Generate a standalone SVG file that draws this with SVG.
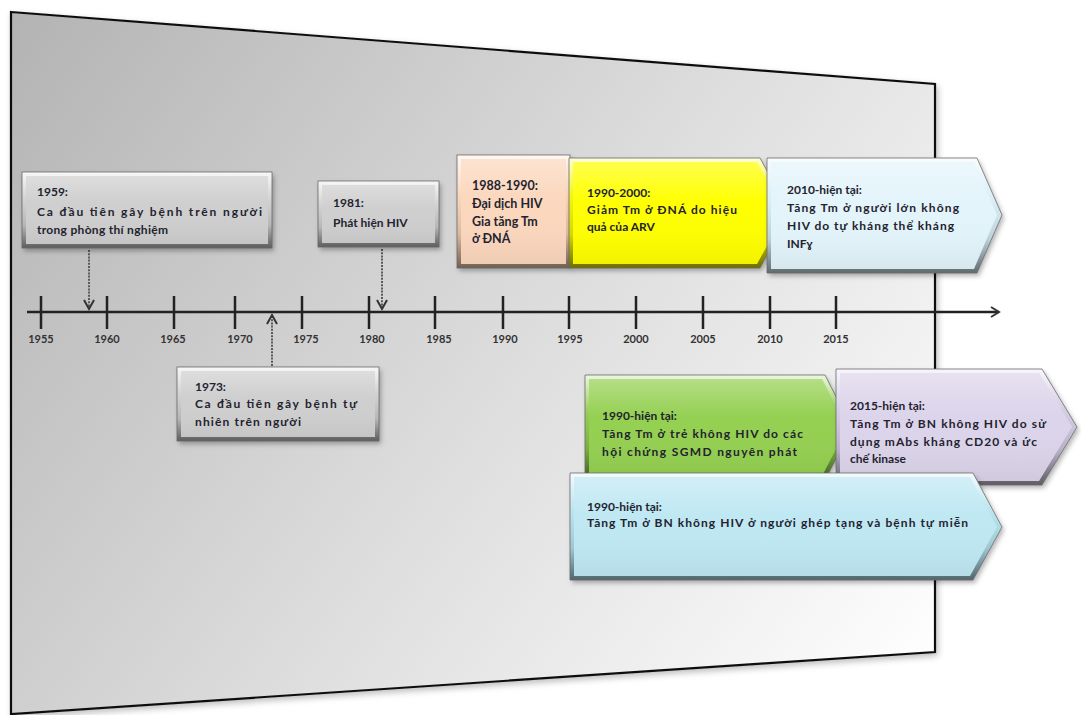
<svg xmlns="http://www.w3.org/2000/svg" width="1081" height="715" viewBox="0 0 1081 715">
<defs>
<linearGradient id="bgGrad" gradientUnits="userSpaceOnUse" x1="11" y1="12" x2="935" y2="680">
<stop offset="0" stop-color="#b3b3b3"/>
<stop offset="0.55" stop-color="#dedede"/>
<stop offset="1" stop-color="#ffffff"/>
</linearGradient>
<linearGradient id="bev" x1="0" y1="0" x2="0" y2="1">
<stop offset="0" stop-color="#ffffff" stop-opacity="0.85"/>
<stop offset="0.35" stop-color="#ffffff" stop-opacity="0.1"/>
<stop offset="0.7" stop-color="#000000" stop-opacity="0.12"/>
<stop offset="1" stop-color="#000000" stop-opacity="0.55"/>
</linearGradient>
<linearGradient id="face" x1="0" y1="0" x2="0" y2="1">
<stop offset="0" stop-color="#ffffff" stop-opacity="0.3"/>
<stop offset="0.4" stop-color="#ffffff" stop-opacity="0"/>
<stop offset="1" stop-color="#000000" stop-opacity="0.05"/>
</linearGradient>
<filter id="sh" x="-10%" y="-10%" width="130%" height="140%">
<feDropShadow dx="2" dy="3" stdDeviation="2.5" flood-color="#000" flood-opacity="0.3"/>
</filter>
<filter id="bgsh" x="-5%" y="-5%" width="110%" height="110%">
<feDropShadow dx="2" dy="3" stdDeviation="3" flood-color="#000" flood-opacity="0.25"/>
</filter>
<marker id="chev" markerWidth="12" markerHeight="12" refX="9" refY="6" orient="auto" markerUnits="userSpaceOnUse">
<path d="M1,1 L9,6 L1,11" fill="none" stroke="#333" stroke-width="2"/>
</marker>
</defs>
<style>
text{font-family:Lato,"Liberation Sans","DejaVu Sans",sans-serif;font-weight:bold;fill:#23232f;}
.t{font-size:12px;}
.tp{font-size:12.5px;}
.ax{font-size:11px;fill:#333;text-anchor:middle;}
.gray{fill:#cfcfcf;}
.ov{fill:url(#bev);}
.fc{fill:url(#face);}
.edge{fill:none;stroke:#6a6a6a;stroke-width:0.8;}
.tick{stroke:#222;stroke-width:2.5;}
.dash{stroke:#5a5a5a;stroke-width:2;stroke-dasharray:2 1.2;fill:none;}
</style>

<g id="background">
<polygon points="11,12 935,84 935,652 11,714" fill="url(#bgGrad)" stroke="#111" stroke-width="2.2" filter="url(#bgsh)"/>
</g>

<g id="axis">
<line x1="27" y1="312" x2="999" y2="312" stroke="#222" stroke-width="2.5" marker-end="url(#chev)"/>
<line class="tick" x1="41" y1="296" x2="41" y2="329"/>
<line class="tick" x1="107" y1="296" x2="107" y2="329"/>
<line class="tick" x1="174" y1="296" x2="174" y2="329"/>
<line class="tick" x1="235" y1="296" x2="235" y2="329"/>
<line class="tick" x1="302" y1="296" x2="302" y2="329"/>
<line class="tick" x1="369" y1="296" x2="369" y2="329"/>
<line class="tick" x1="435" y1="296" x2="435" y2="329"/>
<line class="tick" x1="503" y1="296" x2="503" y2="329"/>
<line class="tick" x1="569" y1="296" x2="569" y2="329"/>
<line class="tick" x1="636" y1="296" x2="636" y2="329"/>
<line class="tick" x1="703" y1="296" x2="703" y2="329"/>
<line class="tick" x1="770" y1="296" x2="770" y2="329"/>
<line class="tick" x1="836" y1="296" x2="836" y2="329"/>
<text class="ax" x="41" y="343">1955</text>
<text class="ax" x="107" y="343">1960</text>
<text class="ax" x="173" y="343">1965</text>
<text class="ax" x="240" y="343">1970</text>
<text class="ax" x="306" y="343">1975</text>
<text class="ax" x="372" y="343">1980</text>
<text class="ax" x="439" y="343">1985</text>
<text class="ax" x="505" y="343">1990</text>
<text class="ax" x="570" y="343">1995</text>
<text class="ax" x="636" y="343">2000</text>
<text class="ax" x="703" y="343">2005</text>
<text class="ax" x="770" y="343">2010</text>
<text class="ax" x="836" y="343">2015</text>
</g>

<g id="connectors">
<line class="dash" x1="89" y1="250" x2="89" y2="308"/>
<path d="M84,300 L89,309 L94,300" fill="none" stroke="#333" stroke-width="2"/>
<line class="dash" x1="382" y1="249" x2="382" y2="308"/>
<path d="M377,300 L382,309 L387,300" fill="none" stroke="#333" stroke-width="2"/>
<line class="dash" x1="272" y1="366" x2="272" y2="316"/>
<path d="M267,324 L272,315 L277,324" fill="none" stroke="#333" stroke-width="2"/>
</g>

<g id="n1959">
<rect class="gray" x="22" y="172" width="250" height="76" filter="url(#sh)"/>
<rect class="ov" x="22" y="172" width="250" height="76"/>
<rect class="gray" x="26" y="176" width="242" height="68"/>
<rect class="fc" x="26" y="176" width="242" height="68"/>
<rect class="edge" x="22" y="172" width="250" height="76"/>
<text class="t" x="37" y="196">1959:</text>
<text class="t" x="37" y="216" textLength="225" lengthAdjust="spacing">Ca đầu tiên gây bệnh trên người</text>
<text class="t" x="37" y="234" textLength="131" lengthAdjust="spacing">trong phòng thí nghiệm</text>
</g>

<g id="n1981">
<rect class="gray" x="318" y="181" width="121" height="66" filter="url(#sh)"/>
<rect class="ov" x="318" y="181" width="121" height="66"/>
<rect class="gray" x="322" y="185" width="113" height="58"/>
<rect class="fc" x="322" y="185" width="113" height="58"/>
<rect class="edge" x="318" y="181" width="121" height="66"/>
<text class="t" x="333" y="207">1981:</text>
<text class="t" x="333" y="227">Phát hiện HIV</text>
</g>

<g id="n1973">
<rect class="gray" x="177" y="367" width="202" height="74" filter="url(#sh)"/>
<rect class="ov" x="177" y="367" width="202" height="74"/>
<rect class="gray" x="181" y="371" width="194" height="66"/>
<rect class="fc" x="181" y="371" width="194" height="66"/>
<rect class="edge" x="177" y="367" width="202" height="74"/>
<text class="t" x="195" y="391">1973:</text>
<text class="t" x="195" y="408" textLength="162" lengthAdjust="spacing">Ca đầu tiên gây bệnh tự</text>
<text class="t" x="195" y="426" textLength="106" lengthAdjust="spacing">nhiên trên người</text>
</g>

<g id="n1988">
<rect fill="#f9d3b6" x="457" y="155" width="113" height="113" filter="url(#sh)"/>
<rect class="ov" x="457" y="155" width="113" height="113"/>
<rect fill="#fbd7bd" x="461" y="159" width="105" height="105"/>
<rect class="fc" x="461" y="159" width="105" height="105"/>
<rect class="edge" x="457" y="155" width="113" height="113"/>
<text class="tp" x="472" y="190">1988-1990:</text>
<text class="tp" x="472" y="208">Đại dịch HIV</text>
<text class="tp" x="472" y="226">Gia tăng Tm</text>
<text class="tp" x="472" y="243">ở ĐNÁ</text>
</g>

<g id="n1990_2000">
<polygon fill="#f2f200" points="569,158 760,158 790,213 760,268 569,268" filter="url(#sh)"/>
<polygon class="ov" points="569,158 760,158 790,213 760,268 569,268"/>
<polygon fill="#ffff00" points="573,162 757,162 785,213 757,264 573,264"/>
<polygon class="fc" points="573,162 757,162 785,213 757,264 573,264"/>
<polygon class="edge" points="569,158 760,158 790,213 760,268 569,268"/>
<text class="t" x="587" y="197">1990-2000:</text>
<text class="t" x="587" y="214" textLength="150" lengthAdjust="spacing">Giảm Tm ở ĐNÁ do hiệu</text>
<text class="t" x="587" y="231">quả của ARV</text>
</g>

<g id="n2010">
<polygon fill="#d6edf6" points="767,158 977,158 1002,215 977,273 767,273" filter="url(#sh)"/>
<polygon class="ov" points="767,158 977,158 1002,215 977,273 767,273"/>
<polygon fill="#e3f4fb" points="771,162 974,162 997,215 974,269 771,269"/>
<polygon class="fc" points="771,162 974,162 997,215 974,269 771,269"/>
<polygon class="edge" points="767,158 977,158 1002,215 977,273 767,273"/>
<text class="t" x="787" y="194">2010-hiện tại:</text>
<text class="t" x="787" y="212" textLength="172" lengthAdjust="spacing">Tăng Tm ở người lớn không</text>
<text class="t" x="787" y="230" textLength="167" lengthAdjust="spacing">HIV do tự kháng thể kháng</text>
<text class="t" x="787" y="248">INFɣ</text>
</g>

<g id="n1990_children">
<polygon fill="#8cc84a" points="585,375 825,375 852,428 825,480 585,480" filter="url(#sh)"/>
<polygon class="ov" points="585,375 825,375 852,428 825,480 585,480"/>
<polygon fill="#94d051" points="589,379 822,379 847,428 822,476 589,476"/>
<polygon class="fc" points="589,379 822,379 847,428 822,476 589,476"/>
<polygon class="edge" points="585,375 825,375 852,428 825,480 585,480"/>
<text class="t" x="602" y="420">1990-hiện tại:</text>
<text class="t" x="602" y="438" textLength="201" lengthAdjust="spacing">Tăng Tm ở trẻ không HIV do các</text>
<text class="t" x="602" y="456" textLength="195" lengthAdjust="spacing">hội chứng SGMD nguyên phát</text>
</g>

<g id="n2015">
<polygon fill="#d2c9e2" points="836,369 1042,369 1077,427 1042,485 836,485" filter="url(#sh)"/>
<polygon class="ov" points="836,369 1042,369 1077,427 1042,485 836,485"/>
<polygon fill="#dcd4ea" points="840,373 1039,373 1072,427 1039,481 840,481"/>
<polygon class="fc" points="840,373 1039,373 1072,427 1039,481 840,481"/>
<polygon class="edge" points="836,369 1042,369 1077,427 1042,485 836,485"/>
<text class="t" x="850" y="410">2015-hiện tại:</text>
<text class="t" x="850" y="428" textLength="196" lengthAdjust="spacing">Tăng Tm ở BN không HIV do sử</text>
<text class="t" x="850" y="446" textLength="187" lengthAdjust="spacing">dụng mAbs kháng CD20 và ức</text>
<text class="t" x="850" y="463">chế kinase</text>
</g>

<g id="n1990_transplant">
<polygon fill="#b5e2ee" points="570,473 973,473 1002,527 973,580 570,580" filter="url(#sh)"/>
<polygon class="ov" points="570,473 973,473 1002,527 973,580 570,580"/>
<polygon fill="#bfe8f3" points="574,477 970,477 997,527 970,576 574,576"/>
<polygon class="fc" points="574,477 970,477 997,527 970,576 574,576"/>
<polygon class="edge" points="570,473 973,473 1002,527 973,580 570,580"/>
<text class="t" x="587" y="511">1990-hiện tại:</text>
<text class="t" x="587" y="527" textLength="381" lengthAdjust="spacing">Tăng Tm ở BN không HIV ở người ghép tạng và bệnh tự miễn</text>
</g>
</svg>
